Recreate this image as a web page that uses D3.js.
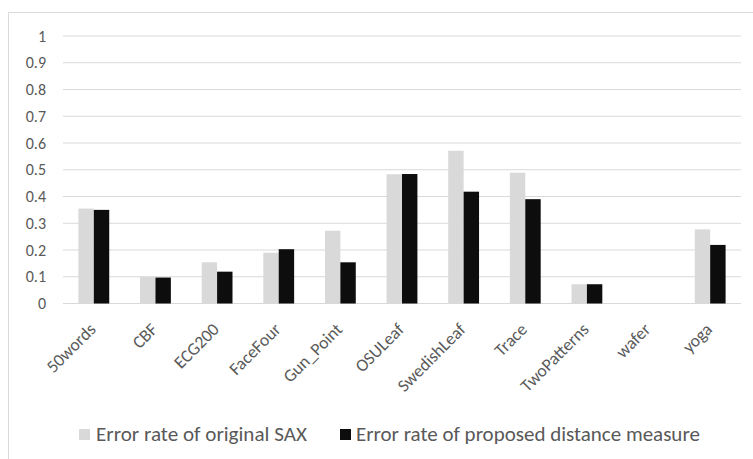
<!DOCTYPE html>
<html><head><meta charset="utf-8">
<script src="https://cdn.jsdelivr.net/npm/d3@7"></script>
<style>body{margin:0;background:#fff}svg{display:block}text{font-family:Calibri,Carlito,Lato,sans-serif}</style>
</head><body><svg id="c" width="753" height="459"></svg>
<script>
const categories = ["50words","CBF","ECG200","FaceFour","Gun_Point","OSULeaf","SwedishLeaf","Trace","TwoPatterns","wafer","yoga"];
const saxValues = [0.355,0.100,0.154,0.190,0.272,0.483,0.571,0.489,0.072,0,0.277];
const proposedValues = [0.350,0.097,0.119,0.203,0.154,0.484,0.418,0.390,0.072,0,0.219];
const yTicks = [0,0.1,0.2,0.3,0.4,0.5,0.6,0.7,0.8,0.9,1];
const seriesNames = ["Error rate of original SAX","Error rate of proposed distance measure"];
const colors = ["#d9d9d9","#0d0d0d"];

const svg = d3.select("#c");
svg.append("path").attr("d","M8.5,459 V12.5 H753").attr("fill","none").attr("stroke","#d9d9d9").attr("stroke-width",1);

const pLeft=63, pRight=741, pTop=36, pBottom=303.5;
const x = d3.scaleBand().domain(categories).range([pLeft,pRight]).paddingInner(0.5).paddingOuter(0.25);
const y = d3.scaleLinear().domain([0,1]).range([pBottom,pTop]);

svg.append("g").selectAll("line").data(yTicks).join("line")
  .attr("x1",pLeft).attr("x2",pRight).attr("y1",d=>y(d)).attr("y2",d=>y(d))
  .attr("stroke","#d9d9d9").attr("stroke-width",1.2);

svg.append("g").selectAll("text").data(yTicks).join("text")
  .attr("x",46).attr("y",d=>y(d)).attr("dy","0.35em").attr("text-anchor","end")
  .attr("fill","#595959").attr("font-size",16).text(d=>d3.format("")(d));

const xs = d3.scaleBand().domain([0,1]).range([0,x.bandwidth()]);
const data = [saxValues, proposedValues];
data.forEach((vals,si)=>{
  svg.append("g").selectAll("rect").data(categories).join("rect")
    .attr("x",(c)=>x(c)+xs(si)).attr("width",xs.bandwidth())
    .attr("y",(c,i)=>y(vals[i])).attr("height",(c,i)=>y(0)-y(vals[i]))
    .attr("fill",colors[si]);
});

// size x labels so "SwedishLeaf" is ~88px long, like the reference
const probe = svg.append("text").attr("font-size",16).text("SwedishLeaf");
const xFont = 16*88/probe.node().getComputedTextLength();
probe.remove();
svg.append("g").selectAll("text").data(categories).join("text")
  .attr("transform",c=>`translate(${x(c)+x.bandwidth()/2+3},${pBottom+27}) rotate(-45)`)
  .attr("text-anchor","end").attr("fill","#595959").attr("font-size",xFont).text(c=>c);

const leg = [{x:79,tx:96,w:211},{x:340,tx:356,w:344}];
leg.forEach((l,i)=>{
  svg.append("rect").attr("x",l.x).attr("y",429).attr("width",11).attr("height",11).attr("fill",colors[i]);
  const t = svg.append("text").attr("x",l.tx).attr("y",441).attr("fill","#595959").attr("font-size",16).text(seriesNames[i]);
  const len = t.node().getComputedTextLength();
  t.attr("font-size",16*l.w/len);
});
</script></body></html>
